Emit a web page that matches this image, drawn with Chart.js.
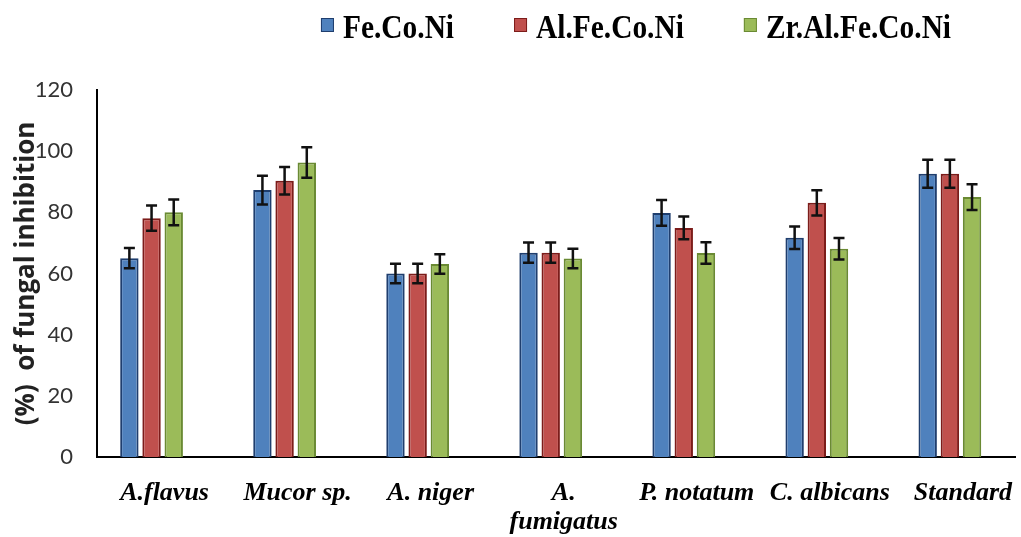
<!DOCTYPE html>
<html>
<head>
<meta charset="utf-8">
<script src="https://cdn.jsdelivr.net/npm/chart.js@4/dist/chart.umd.min.js"></script>
<style>
html,body{margin:0;padding:0;background:#fff;overflow:hidden;}
#wrap{position:relative;width:1021px;height:537px;}
</style>
</head>
<body>
<div id="wrap"><canvas id="c"></canvas></div>
<script>
const categoryLabels = ['A.flavus', 'Mucor sp.', 'A. niger', ['A.', 'fumigatus'], 'P. notatum', 'C. albicans', 'Standard'];
const seriesNames = ['Fe.Co.Ni', 'Al.Fe.Co.Ni', 'Zr.Al.Fe.Co.Ni'];
const feCoNi = [65, 87.3, 60, 66.8, 79.8, 71.7, 92.6];
const alFeCoNi = [78.1, 90.3, 60, 66.8, 74.9, 83.1, 92.6];
const zrAlFeCoNi = [80, 96.3, 63.1, 64.9, 66.7, 68.1, 85];
const feCoNiErr = [3.3, 4.7, 3.2, 3.3, 4.2, 3.7, 4.6];
const alFeCoNiErr = [4.1, 4.5, 3.2, 3.3, 3.7, 4.1, 4.6];
const zrAlFeCoNiErr = [4.2, 5.0, 3.2, 3.2, 3.5, 3.5, 4.2];
const yTicks = [0, 20, 40, 60, 80, 100, 120];

const fills = ['#4f81bd', '#c0504d', '#9bbb59'];
const borders = ['#1f3e6e', '#7c1c1a', '#6a8a33'];
const values = [feCoNi, alFeCoNi, zrAlFeCoNi];
const errs = [feCoNiErr, alFeCoNiErr, zrAlFeCoNiErr];

const datasets = seriesNames.map((name, k) => ({
  label: name,
  data: values[k].map((v, i) => ({x: i, y: v})),
  errors: errs[k],
  backgroundColor: fills[k],
  borderColor: borders[k],
  borderWidth: 2,
  borderSkipped: 'bottom',
  categoryPercentage: 0.5,
  barPercentage: 0.83
}));

const errorBarPlugin = {
  id: 'errorBars',
  afterDatasetsDraw(chart) {
    const ctx = chart.ctx;
    const y = chart.scales.y;
    ctx.save();
    ctx.strokeStyle = '#111';
    ctx.lineWidth = 2.5;
    chart.data.datasets.forEach((ds, k) => {
      const meta = chart.getDatasetMeta(k);
      meta.data.forEach((bar, i) => {
        const v = ds.data[i].y, e = ds.errors[i];
        const top = y.getPixelForValue(v + e), bot = y.getPixelForValue(v - e);
        const x = bar.x, cw = 5.5;
        ctx.beginPath();
        ctx.moveTo(x, top); ctx.lineTo(x, bot);
        ctx.moveTo(x - cw, top); ctx.lineTo(x + cw, top);
        ctx.moveTo(x - cw, bot); ctx.lineTo(x + cw, bot);
        ctx.stroke();
      });
    });
    ctx.restore();
  }
};

const legendPlugin = {
  id: 'customLegend',
  afterDraw(chart) {
    const ctx = chart.ctx;
    ctx.save();
    ctx.font = 'bold 34px "Liberation Serif"';
    const squeeze = 0.865;
    const box = 13, boxH = 14, gapText = 9, gapItem = 60;
    const textW = chart.data.datasets.map(ds => ctx.measureText(ds.label).width * squeeze);
    const widths = textW.map(w => box + gapText + w);
    const total = widths.reduce((a, b) => a + b, 0) + gapItem * (widths.length - 1);
    let x = 636 - total / 2;
    const boxTop = 18, baseline = 38;
    chart.data.datasets.forEach((ds, k) => {
      ctx.fillStyle = ds.backgroundColor;
      ctx.fillRect(x, boxTop, box, boxH);
      ctx.strokeStyle = ds.borderColor;
      ctx.lineWidth = 1;
      ctx.strokeRect(x + 0.5, boxTop + 0.5, box - 1, boxH - 1);
      ctx.fillStyle = '#000';
      ctx.textBaseline = 'alphabetic';
      ctx.textAlign = 'left';
      ctx.fillText(ds.label, x + box + gapText, baseline, textW[k]);
      x += widths[k] + gapItem;
    });
    ctx.restore();
  }
};

new Chart(document.getElementById('c'), {
  type: 'bar',
  data: { datasets },
  options: {
    responsive: true,
    maintainAspectRatio: false,
    animation: false,
    layout: { padding: { top: 90, right: 0, left: 0, bottom: 0 } },
    plugins: { legend: { display: false }, tooltip: { enabled: false } },
    scales: {
      x: {
        type: 'linear',
        offset: false,
        min: -0.41,
        max: 6.49,
        afterBuildTicks: s => { s.ticks = categoryLabels.map((_, i) => ({ value: i })); },
        afterFit: s => { s.height = 80; },
        grid: { display: false, drawTicks: false, offset: false },
        border: { display: true, color: '#000', width: 2 },
        ticks: {
          autoSkip: false,
          maxRotation: 0,
          padding: 22,
          labelOffset: 13,
          color: '#000',
          font: { family: '"Liberation Serif"', size: 26, weight: 'bold', style: 'italic', lineHeight: 1.12 },
          callback: v => categoryLabels[v]
        }
      },
      y: {
        min: 0,
        max: 120,
        afterBuildTicks: s => { s.ticks = yTicks.map(v => ({ value: v })); },
        afterFit: s => { s.width = 97; },
        grid: { display: false, drawTicks: false },
        border: { display: true, color: '#000', width: 2 },
        ticks: {
          padding: 24,
          color: '#333',
          font: { family: 'Lato', size: 22 }
        },
        title: {
          display: true,
          text: '(%)  of fungal inhibition',
          color: '#222',
          padding: { top: 11, bottom: 0 },
          font: { family: '"Open Sans"', size: 26, weight: 'bold', lineHeight: 1.2 }
        }
      }
    }
  },
  plugins: [errorBarPlugin, legendPlugin]
});
</script>
</body>
</html>
